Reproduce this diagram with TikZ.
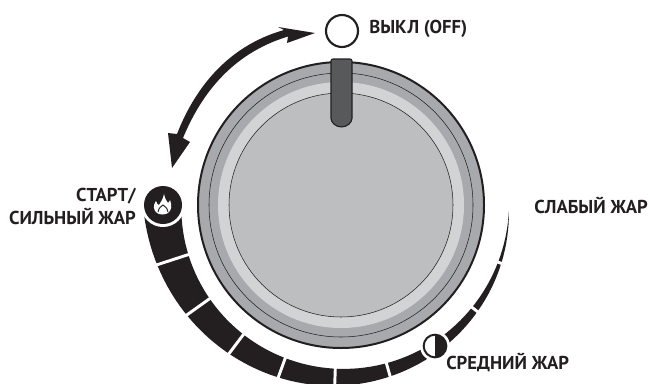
\documentclass[tikz,border=0pt]{standalone}
\usepackage{fontspec}
\setmainfont{PT Sans}
\definecolor{inkblack}{HTML}{231F20}
\definecolor{rimgray}{HTML}{A7A9AC}
\definecolor{ringgray}{HTML}{D1D3D4}
\definecolor{facegray}{HTML}{BCBEC0}
\definecolor{pointergray}{HTML}{58595B}
\tikzstyle{label} = [font=\bfseries\fontsize{14}{17.2}\selectfont, text=inkblack, inner sep=0pt]
\tikzstyle{gap} = [white, line width=2.2]
\tikzstyle{thinring} = [draw=inkblack, line width=0.4]
\begin{document}
\begin{tikzpicture}[x=0.75pt,y=0.75pt]
  \useasboundingbox (0,0) rectangle (649,383);
  \clip (0,0) rectangle (649,383);
  \coordinate (knob) at (341,178);

  % heat scale
  \begin{scope}[shift={(341,178)}]
    \fill[inkblack] plot[domain=183:358,samples=80] (\x:{160+8*(\x-187)/171})
      -- plot[domain=358:183,samples=80] (\x:{160+8*(\x-187)/171+0.19*(358-\x)+0.0009*max(250-\x,0)^2}) -- cycle;
    \foreach \a in {198,215.5,233,250,268,286,322,340}
      \draw[gap] (\a:155) -- (\a:205);
  \end{scope}

  % knob
  \node (rim) [circle, at=(knob), minimum size=214.5pt, inner sep=0pt, draw=inkblack, line width=1.5, fill=rimgray] {};
  \node (ring) [circle, at=(knob), minimum size=198pt, inner sep=0pt, thinring, fill=rimgray] {};
  \node (band) [circle, at=(knob), minimum size=184.5pt, inner sep=0pt, fill=ringgray] {};
  \node (face) [circle, at=(knob), minimum size=168pt, inner sep=0pt, thinring, fill=facegray] {};
  \draw[draw=inkblack, line width=0.8, fill=pointergray, rounded corners=1.5]
    (331,324) -- (352,324) -- (352,266.5) arc (0:-180:10.5) -- cycle;

  % switch positions
  \node (off) [circle, minimum size=24pt, inner sep=0pt, draw=inkblack, line width=1.6, fill=white] at (342,352) {};
  \node (high) [circle, minimum size=33pt, inner sep=0pt, fill=white] at (163,178) {};
  \node (highdot) [circle, minimum size=28.5pt, inner sep=0pt, fill=inkblack] at (163,178) {};
  \fill[white] (157,170) .. controls (153,173) and (153,178) .. (156,182)
    .. controls (157,179) and (158,178) .. (159,178)
    .. controls (161,181) and (163,184) .. (164,189)
    .. controls (165,185) and (166,182) .. (168,180)
    .. controls (169,181) and (170,182) .. (170,183)
    .. controls (172,178) and (172,173) .. (168,170)
    .. controls (165,168) and (160,168) .. (157,170) -- cycle;
  \draw[inkblack, line width=0.7] (158,171) .. controls (159,176) and (161,176) .. (163,178)
    .. controls (165,176) and (167,176) .. (168,171);
  \node (med) [circle, minimum size=22.5pt, inner sep=0pt, fill=white] at (435,37) {};
  \node (meddot) [circle, minimum size=17pt, inner sep=0pt, draw=inkblack, line width=1.5, fill=white] at (435,37) {};
  \fill[inkblack] (435,48.5) arc (90:-90:11.5) -- cycle;

  % direction arrow
  \fill[inkblack] (315,350) -- (278,356) -- (284,353)
    .. controls (224,336) and (193,290) .. (177,249)
    -- (168,250) -- (172,215) -- (190,241) -- (183,245)
    .. controls (200,286) and (230,329) .. (288,346.5) -- (287,340) -- cycle;

  \node (offtext) [label, anchor=west] at (369,354.5) {ВЫКЛ (OFF)};
  \node (hightext) [label, align=right, anchor=east] at (136,176.5) {СТАРТ/\\СИЛЬНЫЙ ЖАР};
  \node (lowtext) [label, anchor=west] at (534,178) {СЛАБЫЙ ЖАР};
  \node (medtext) [label, anchor=west] at (446,20) {СРЕДНИЙ ЖАР};
\end{tikzpicture}
\end{document}
